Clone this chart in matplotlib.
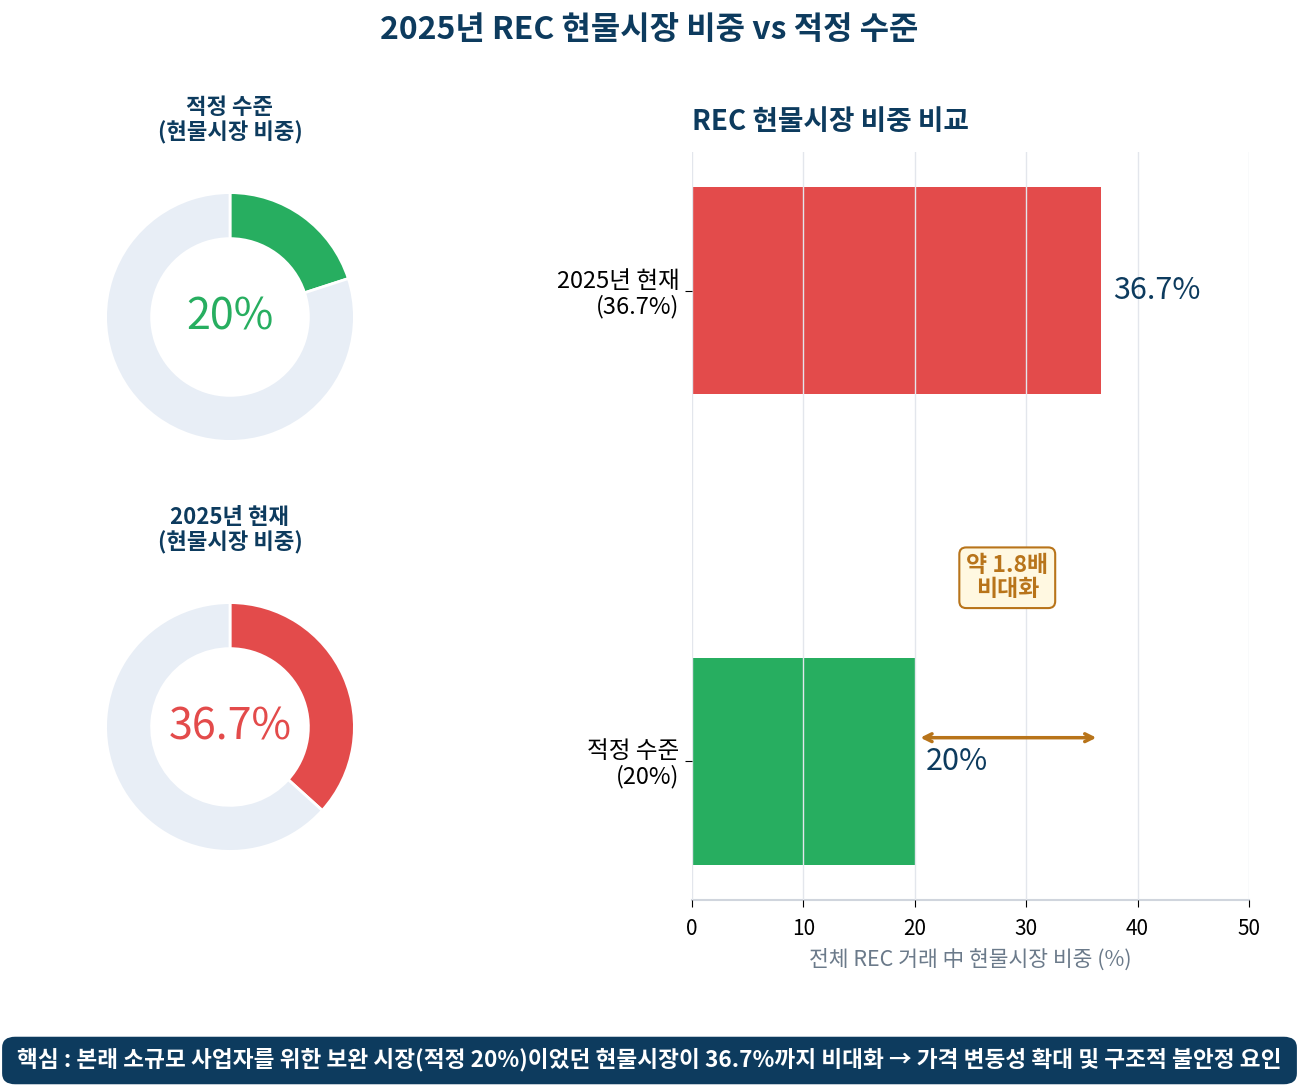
import numpy as np
import matplotlib
matplotlib.use('Agg')
import matplotlib.pyplot as plt
from matplotlib.patches import FancyBboxPatch

plt.rcParams['font.family'] = ['Noto Sans CJK KR', 'DejaVu Sans']

# data
donut_titles = ['적정 수준\n(현물시장 비중)', '2025년 현재\n(현물시장 비중)']
donut_values = [20.0, 36.7]
donut_labels = ['20%', '36.7%']
bar_cats = ['적정 수준\n(20%)', '2025년 현재\n(36.7%)']
bar_values = [20.0, 36.7]
bar_labels = ['20%', '36.7%']
xticks = [0, 10, 20, 30, 40, 50]

NAVY = '#0d3b5e'
GREEN = '#27ae60'
RED = '#e34b4b'
REST = '#e8eef6'
GOLD = '#b8741a'
colors = [GREEN, RED]

fig = plt.figure(figsize=(12.99, 10.88), dpi=100)
W, H = 1299, 1088

fig.text(0.5, 1 - 30 / H, '2025년 REC 현물시장 비중 vs 적정 수준', ha='center', va='center',
         fontsize=23, fontweight='bold', color=NAVY)

# donuts
centers = [317, 727]
title_y = [120, 530]
for i in range(2):
    cy = centers[i]
    ax = fig.add_axes([(230 - 130) / W, 1 - (cy + 130) / H, 260 / W, 260 / H])
    v = donut_values[i]
    ax.pie([v, 100 - v], colors=[colors[i], REST], startangle=90, counterclock=False,
           wedgeprops=dict(width=0.37, edgecolor='white', linewidth=2))
    ax.set_xlim(-1.045, 1.045)
    ax.set_ylim(-1.045, 1.045)
    ax.set_aspect('equal')
    ax.text(0, 0, donut_labels[i], ha='center', va='center', fontsize=31,
            fontweight='medium', color=colors[i])
    fig.text(230 / W, 1 - title_y[i] / H, donut_titles[i], ha='center', va='center',
             fontsize=16, fontweight='bold', color=NAVY, linespacing=1.1)

# bar chart
ax = fig.add_axes([692 / W, 1 - 900 / H, 557 / W, 748 / H])
ypos = np.arange(len(bar_cats))
ax.barh(ypos, bar_values, height=0.44, color=colors, zorder=1)
ax.set_xlim(0, 50)
ax.set_ylim(-0.295, 1.295)
ax.set_xticks(xticks)
ax.set_yticks(ypos)
ax.set_yticklabels(bar_cats, fontsize=17, linespacing=1.1)
ax.tick_params(axis='x', labelsize=15, length=5, pad=8)
ax.tick_params(axis='y', length=5, pad=4)
ax.grid(axis='x', color='#e3e6ec', linewidth=1, zorder=2)
ax.set_axisbelow(False)
for s in ['top', 'right', 'left']:
    ax.spines[s].set_visible(False)
ax.spines['bottom'].set_color('#d0d5dd')
ax.spines['bottom'].set_linewidth(1.5)
ax.set_xlabel('전체 REC 거래 中 현물시장 비중 (%)', fontsize=15.5, color='#6b7a8a', labelpad=6)
ax.set_title('REC 현물시장 비중 비교', loc='left', fontsize=20, fontweight='bold', color=NAVY, pad=16)

ax.text(bar_values[1] + 1.1, ypos[1], bar_labels[1], ha='left', va='center',
        fontsize=22, fontweight='medium', color=NAVY)
ax.text(bar_values[0] + 1.0, ypos[0], bar_labels[0], ha='left', va='center',
        fontsize=22, fontweight='medium', color=NAVY)

ax.annotate('', xy=(bar_values[0] + 0.5, 0.05), xytext=(bar_values[1] - 0.4, 0.05),
            arrowprops=dict(arrowstyle='<->', color=GOLD, lw=2.5, shrinkA=0, shrinkB=0,
                            mutation_scale=14))
ax.text(28.3, 0.39, '약 1.8배\n비대화', ha='center', va='center', fontsize=16.5, fontweight='bold',
        color=GOLD, linespacing=1.05,
        bbox=dict(boxstyle='round,pad=0.3', facecolor='#fff8e1', edgecolor=GOLD, linewidth=1.5))

# bottom banner
banner = FancyBboxPatch((6 / W, 1 - 1081 / H), 1287 / W, 41 / H,
                        boxstyle='round,pad=0.003,rounding_size=0.01',
                        transform=fig.transFigure, facecolor=NAVY, edgecolor='none')
fig.patches.append(banner)
fig.text(0.5, 1 - 1060 / H,
         '핵심 : 본래 소규모 사업자를 위한 보완 시장(적정 20%)이었던 현물시장이 36.7%까지 비대화 → 가격 변동성 확대 및 구조적 불안정 요인',
         ha='center', va='center', fontsize=16.3, fontweight='bold', color='white')

fig.savefig('out.png', dpi=100)
